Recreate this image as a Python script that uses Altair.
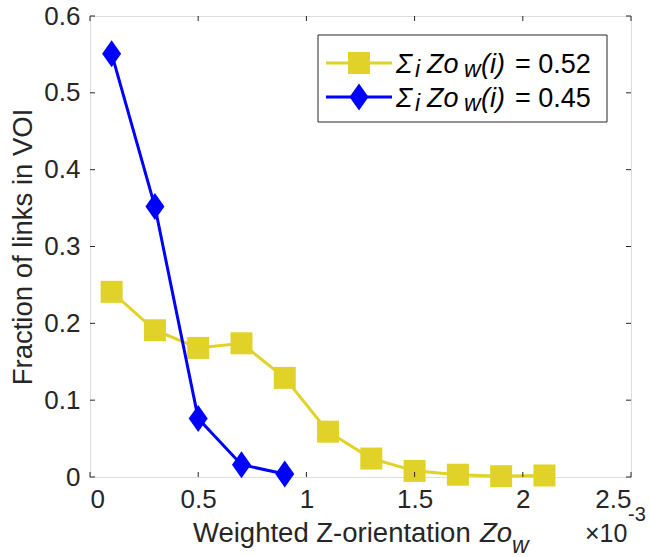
import altair as alt
import pandas as pd

# ---- data (x in units of 1e-3) ----
x_yellow = [0.1, 0.3, 0.5, 0.7, 0.9, 1.1, 1.3, 1.5, 1.7, 1.9, 2.1]
y_yellow = [0.241, 0.191, 0.168, 0.174, 0.129, 0.059, 0.024, 0.008, 0.003, 0.001, 0.002]
x_blue = [0.1, 0.3, 0.5, 0.7, 0.9]
y_blue = [0.551, 0.352, 0.076, 0.016, 0.004]
x_ticks = [0, 0.5, 1, 1.5, 2, 2.5]
y_ticks = [0, 0.1, 0.2, 0.3, 0.4, 0.5, 0.6]
legend_values = ["0.52", "0.45"]

YELLOW = "#E0D228"
BLUE = "#0000FF"
AXC = "#262626"
FONT = "Liberation Sans"
W, H = 541, 461

df_y = pd.DataFrame({"x": x_yellow, "y": y_yellow})
df_b = pd.DataFrame({"x": x_blue, "y": y_blue})
df_xt = pd.DataFrame({"x": x_ticks})
df_yt = pd.DataFrame({"y": y_ticks})

xscale = alt.Scale(domain=[0, 2.5], nice=False, zero=False)
yscale = alt.Scale(domain=[0, 0.6], nice=False, zero=False)
xaxis = alt.Axis(values=x_ticks, format="~g", title=None, ticks=False, tickSize=0,
                 domain=False, grid=False, labelFont=FONT, labelFontSize=26,
                 labelColor=AXC, labelPadding=9)
yaxis = alt.Axis(values=y_ticks, format="~g", title="Fraction of links in VOI",
                 ticks=False, tickSize=0, domain=False, grid=False, labelFont=FONT,
                 labelFontSize=26, labelColor=AXC, labelPadding=10,
                 titleFont=FONT, titleFontSize=27.5, titleFontWeight="normal",
                 titleColor=AXC, titleX=-67, titleBaseline="middle")

X = alt.X("x:Q", scale=xscale, axis=xaxis)
Y = alt.Y("y:Q", scale=yscale, axis=yaxis)

diamond = "M0,-1.35L0.95,0L0,1.35L-0.95,0Z"

yl_line = alt.Chart(df_y).mark_line(color=YELLOW, strokeWidth=3).encode(x=X, y=Y)
yl_pts = alt.Chart(df_y).mark_point(shape="square", filled=True, fill=YELLOW,
                                    size=484, opacity=1, strokeWidth=0).encode(x=X, y=Y)
bl_line = alt.Chart(df_b).mark_line(color=BLUE, strokeWidth=3).encode(x=X, y=Y)
bl_pts = alt.Chart(df_b).mark_point(shape=diamond, filled=True, fill=BLUE,
                                    size=400, opacity=1, strokeWidth=0).encode(x=X, y=Y)

# inward ticks on all four sides
tick_b = alt.Chart(df_xt).mark_rule(color=AXC, strokeWidth=1).encode(
    x=X, y=alt.value(H), y2=alt.value(H - 5))
tick_t = alt.Chart(df_xt).mark_rule(color=AXC, strokeWidth=1).encode(
    x=X, y=alt.value(0), y2=alt.value(5))
tick_l = alt.Chart(df_yt).mark_rule(color=AXC, strokeWidth=1).encode(
    y=Y, x=alt.value(0), x2=alt.value(5))
tick_r = alt.Chart(df_yt).mark_rule(color=AXC, strokeWidth=1).encode(
    y=Y, x=alt.value(W), x2=alt.value(W - 5))

one = alt.Data(values=[{"a": 1}])


def txt(s, x, y, size, italic=False, color="#000000", align="left"):
    kw = dict(text=s, font=FONT, fontSize=size, color=color, align=align,
              baseline="alphabetic")
    if italic:
        kw["fontStyle"] = "italic"
    return alt.Chart(one).mark_text(**kw).encode(x=alt.value(x), y=alt.value(y))


# legend
box = alt.Chart(one).mark_rect(fill="white", stroke=AXC, strokeWidth=1).encode(
    x=alt.value(228), x2=alt.value(517), y=alt.value(19), y2=alt.value(106))
leg = [box]
rows = [(47, YELLOW, "square", 484), (81, BLUE, diamond, 400)]
for (cy, col, shp, sz), val in zip(rows, legend_values):
    leg.append(alt.Chart(one).mark_rule(color=col, strokeWidth=3).encode(
        x=alt.value(236), x2=alt.value(302), y=alt.value(cy)))
    leg.append(alt.Chart(one).mark_point(shape=shp, filled=True, fill=col, size=sz,
                                         opacity=1, strokeWidth=0).encode(
        x=alt.value(269), y=alt.value(cy)))
    bl = cy + 10
    leg.append(txt("Σ", 306, bl, 27, italic=True))
    leg.append(txt("i", 325, bl + 4, 23, italic=True))
    leg.append(txt("Zo", 337, bl, 27, italic=True))
    leg.append(txt("w", 374, bl + 4, 23, italic=True))
    leg.append(txt("(i)", 391, bl, 27, italic=True))
    leg.append(txt("= " + val, 425, bl, 27))

# x title and exponent
xt = [
    txt("Weighted Z-orientation", 103, 526, 27.5, color=AXC),
    txt("Zo", 390, 526, 27.5, italic=True, color=AXC),
    txt("w", 422, 537, 23, italic=True, color=AXC),
    txt("×10", 495, 526, 25, color=AXC),
    txt("-3", 538, 505, 20, color=AXC),
]

chart = alt.layer(
    yl_line, yl_pts, bl_line, bl_pts, tick_b, tick_t, tick_l, tick_r, *leg, *xt
).properties(
    width=W, height=H,
    autosize=alt.AutoSizeParams(type="none"),
    padding={"left": 90, "top": 16, "right": 19, "bottom": 80},
).configure_view(stroke=AXC, strokeWidth=1.2).configure(background="white")

chart.save("out.html", embed_options={"renderer": "svg", "actions": False})
